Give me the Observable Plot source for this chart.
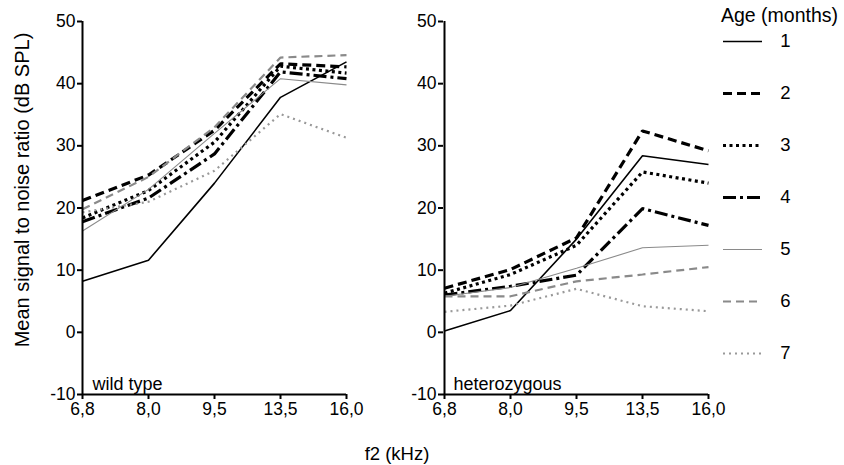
<!DOCTYPE html>
<html><head><meta charset="utf-8">
<script src="https://cdn.jsdelivr.net/npm/d3@7"></script>
<script src="https://cdn.jsdelivr.net/npm/@observablehq/plot@0.6"></script>
<style>
body{margin:0;background:#fff;font-family:"Liberation Sans",Arial,sans-serif;}
#root{position:relative;width:844px;height:465px;overflow:hidden;background:#fff;}
.abs{position:absolute;}
.abs svg{display:block;}
</style></head><body><div id="root"></div>
<script>
// ---- data ----
const freqs = ["6,8", "8,0", "9,5", "13,5", "16,0"];
const ages = [1, 2, 3, 4, 5, 6, 7];
const yTicks = [-10, 0, 10, 20, 30, 40, 50];
const panelLabels = ["wild type", "heterozygous"];
const legendTitle = "Age (months)";
const xTitle = "f2 (kHz)";
const yTitle = "Mean signal to noise ratio (dB SPL)";

// rows = age 1..7, columns = freqs
const wildType = [
  [8.2, 11.6, 24.0, 37.8, 43.5],
  [21.2, 25.3, 32.5, 43.2, 42.7],
  [18.4, 22.8, 30.6, 42.8, 41.7],
  [17.8, 21.6, 28.7, 41.9, 40.8],
  [16.3, 23.0, 32.0, 40.8, 39.8],
  [19.8, 25.0, 33.0, 44.2, 44.6],
  [19.3, 21.0, 26.0, 35.1, 31.3]
];
const heterozygous = [
  [0.2, 3.5, 15.0, 28.4, 27.0],
  [7.1, 10.1, 15.2, 32.4, 29.2],
  [6.3, 9.3, 14.0, 25.8, 24.0],
  [6.0, 7.4, 9.2, 19.9, 17.2],
  [5.8, 7.2, 10.3, 13.6, 14.0],
  [5.8, 5.8, 8.2, 9.3, 10.5],
  [3.3, 4.3, 7.0, 4.2, 3.4]
];

// ---- styles (per age) ----
const styles = [
  {color: "#000", width: 1.6, dash: null},
  {color: "#000", width: 3.2, dash: "9,5"},
  {color: "#000", width: 3.2, dash: "3,3.5"},
  {color: "#000", width: 3.2, dash: "13,4,3,4"},
  {color: "#8a8a8a", width: 1.1, dash: null},
  {color: "#8a8a8a", width: 2.2, dash: "8,5"},
  {color: "#999", width: 2.2, dash: "2,4"}
];

const FONT = '"Liberation Sans", Arial, sans-serif';
const root = document.getElementById("root");

function place(node, left, top) {
  const d = document.createElement("div");
  d.className = "abs";
  d.style.left = left + "px";
  d.style.top = top + "px";
  d.appendChild(node);
  root.appendChild(d);
  return d;
}

function panel(values, label, width, marginLeft, marginRight) {
  const data = [];
  values.forEach((row, i) => row.forEach((v, j) => data.push({age: ages[i], f: freqs[j], v})));
  const marks = [];
  ages.forEach((a, i) => {
    const s = styles[i];
    marks.push(Plot.line(data.filter(d => d.age === a), {
      x: "f", y: "v", stroke: s.color, strokeWidth: s.width,
      strokeDasharray: s.dash, strokeLinejoin: "miter", strokeLinecap: "butt", curve: "linear"
    }));
  });
  marks.push(Plot.ruleX([freqs[0]], {stroke: "#000", strokeWidth: 2}));
  marks.push(Plot.ruleY([-10], {stroke: "#000", strokeWidth: 2}));
  marks.push(Plot.axisY(yTicks, {tickSize: 5, tickPadding: 2, strokeWidth: 2, label: null, fontSize: 17.5, tickFormat: d => String(d)}));
  marks.push(Plot.axisX({tickSize: 5, tickPadding: 3, strokeWidth: 2, label: null, fontSize: 17.5}));
  marks.push(Plot.text([label], {frameAnchor: "bottom-left", dx: 10, dy: -5, lineAnchor: "bottom", textAnchor: "start", fontSize: 18}));
  return Plot.plot({
    width, height: 465,
    marginLeft, marginRight, marginTop: 21, marginBottom: 71,
    style: {fontFamily: FONT, fontSize: "17.5px", color: "#000", background: "transparent", overflow: "visible"},
    x: {type: "point", domain: freqs, padding: 0},
    y: {domain: [-10, 50]},
    marks
  });
}

place(panel(wildType, panelLabels[0], 372, 82, 26), 0, 0);
place(panel(heterozygous, panelLabels[1], 372, 83, 24), 360, 0);

// legend
const legendMarks = [];
ages.forEach((a, i) => {
  const s = styles[i];
  legendMarks.push(Plot.ruleY([a], {x1: 0, x2: 1, stroke: s.color, strokeWidth: s.width, strokeDasharray: s.dash, strokeLinecap: "butt"}));
});
legendMarks.push(Plot.text(ages, {x: 1, y: d => d, text: d => String(d), dx: 23, textAnchor: "middle", fontSize: 18.5}));
const legend = Plot.plot({
  width: 132, height: 400,
  marginLeft: 11, marginRight: 82, marginTop: 38, marginBottom: 45,
  style: {fontFamily: FONT, fontSize: "18.5px", color: "#000", background: "transparent"},
  x: {domain: [0, 1], axis: null},
  y: {type: "point", domain: ages, padding: 0, axis: null},
  marks: legendMarks
});
place(legend, 712, 0);

// texts
const lt = document.createElement("div");
lt.textContent = legendTitle;
lt.style.cssText = `font:19.5px ${FONT};white-space:nowrap;line-height:1;`;
place(lt, 721, 6);

const xt = document.createElement("div");
xt.textContent = xTitle;
xt.style.cssText = `font:18.5px ${FONT};white-space:nowrap;line-height:1;width:120px;text-align:center;`;
place(xt, 397 - 60, 445);

const yt = document.createElement("div");
yt.textContent = yTitle;
yt.style.cssText = `font:20px ${FONT};white-space:nowrap;line-height:1;width:380px;text-align:center;transform:rotate(-90deg);transform-origin:190px 10px;`;
place(yt, 22 - 190, 190 - 10);
</script></body></html>
